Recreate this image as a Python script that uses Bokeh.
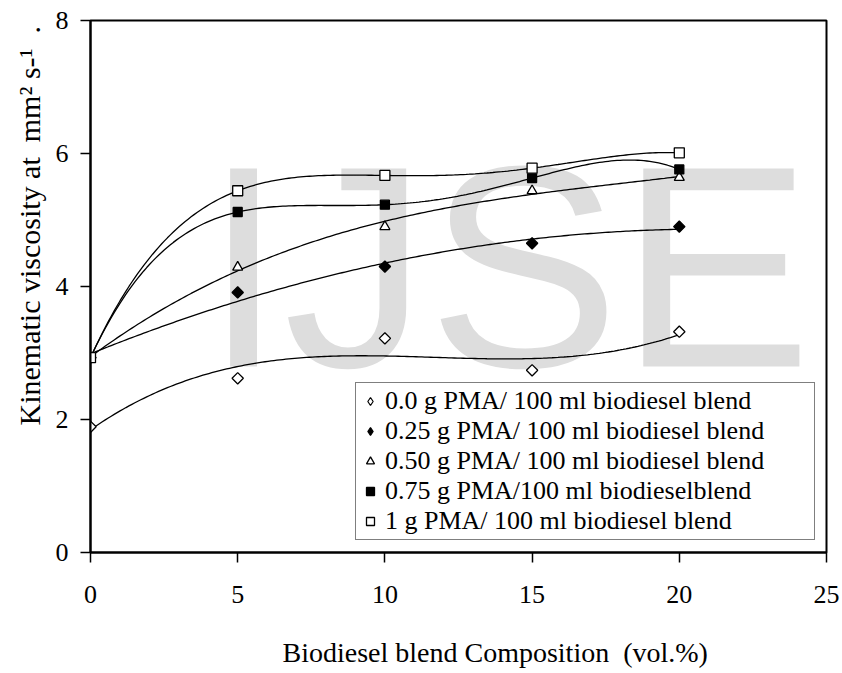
import numpy as np
from math import pi
from bokeh.plotting import figure
from bokeh.models import Label, Legend, LegendItem, Range1d, FixedTicker, Title
from bokeh.embed import file_html
from bokeh.resources import INLINE

# ---- data ----
blend_pct = [0, 5, 10, 15, 20]
pma_000 = [1.89, 2.62, 3.22, 2.74, 3.32]
pma_025 = [2.93, 3.91, 4.30, 4.65, 4.90]
pma_050 = [2.93, 4.29, 4.90, 5.44, 5.64]
pma_075 = [2.93, 5.12, 5.23, 5.63, 5.76]
pma_100 = [2.93, 5.44, 5.67, 5.78, 6.01]
series_labels = [
    "0.0 g PMA/ 100 ml biodiesel blend",
    "0.25 g PMA/ 100 ml biodiesel blend",
    "0.50 g PMA/ 100 ml biodiesel blend",
    "0.75 g PMA/100 ml biodieselblend",
    "1 g PMA/ 100 ml biodiesel blend",
]
trend_order = [3, 2, 3, 4, 4]   # polynomial trendline order for each series
x_ticks = [0, 5, 10, 15, 20, 25]
y_ticks = [0, 2, 4, 6, 8]
x_title = "Biodiesel blend Composition\u00a0 (vol.%)"
y_title = "Kinematic viscosity at\u00a0 mm² s-¹\u00a0 ."

series = [pma_000, pma_025, pma_050, pma_075, pma_100]
markers = ["square", "square", "triangle", "square", "square"]
angles = [pi / 4, pi / 4, 0, 0, 0]
legend_markers = ["diamond", "diamond", None, None, None]
fills = ["white", "black", "white", "black", "white"]
sizes = [8, 8, 10, 9, 10]

SERIF = "Liberation Serif"

p = figure(width=842, height=673, x_range=Range1d(0, 25), y_range=Range1d(0, 8),
           output_backend="svg", toolbar_location=None,
           min_border_left=90, min_border_right=16, min_border_top=20, min_border_bottom=121)
p.background_fill_color = "white"
p.border_fill_color = "white"
p.xgrid.visible = False
p.ygrid.visible = False
p.outline_line_color = "black"
p.outline_line_width = 2

for ax, ticks in ((p.xaxis, x_ticks), (p.yaxis, y_ticks)):
    ax.ticker = FixedTicker(ticks=ticks)
    ax.axis_line_width = 2
    ax.axis_line_color = "black"
    ax.major_tick_line_width = 1.5
    ax.major_tick_line_color = "black"
    ax.major_tick_out = 10
    ax.major_tick_in = 0
    ax.minor_tick_line_color = None
    ax.major_label_text_font = SERIF
    ax.major_label_text_font_size = "26px"
    ax.major_label_text_color = "black"
p.xaxis.major_label_standoff = 23
p.yaxis.major_label_standoff = 12

# watermark
p.add_layout(Label(x=3.84, y=4.30, text="IJSE", text_font="Liberation Sans",
                   text_font_size="288px", text_color="#dddddd",
                   text_baseline="alphabetic", level="underlay"))

# trendlines (polynomial fits of each series)
xs_fit = np.linspace(0, 20, 200)
for ys, order in zip(series, trend_order):
    coef = np.polyfit(blend_pct, ys, order)
    p.line(xs_fit, np.polyval(coef, xs_fit), line_color="black", line_width=1.3)

items = []
for ys, mk, ang, fc, sz, lmk, lab in zip(series, markers, angles, fills, sizes,
                                         legend_markers, series_labels):
    sw = None
    if lmk is not None:
        # legend swatch: a diamond drawn under the rotated-square markers (hidden by them)
        sw = p.scatter(blend_pct, ys, marker=lmk, size=10, fill_color=fc,
                       line_color="black", line_width=1.2)
    r = p.scatter(blend_pct, ys, marker=mk, angle=ang, size=sz, fill_color=fc,
                  line_color="black", line_width=1.3)
    items.append(LegendItem(label=lab, renderers=[sw if sw is not None else r]))

legend = Legend(items=items, location=(265, 12), orientation="vertical",
                label_text_font=SERIF, label_text_font_size="26px", label_text_color="black",
                glyph_width=22, glyph_height=20, label_standoff=4, spacing=0,
                padding=3, margin=0, label_width=426,
                border_line_color="black", border_line_width=1.5,
                background_fill_color="white", background_fill_alpha=1)
p.add_layout(legend, "center")

# axis titles placed as side titles so they can be offset like the reference
p.add_layout(Title(text=y_title, align="left", offset=127, standoff=14,
                   text_font=SERIF, text_font_size="30px", text_font_style="normal",
                   text_color="black"), "left")
p.add_layout(Title(text=" ", text_font_size="1px", standoff=24), "below")
p.add_layout(Title(text=x_title, align="left", offset=192, standoff=4,
                   text_font=SERIF, text_font_size="28px", text_font_style="normal",
                   text_color="black"), "below")

open("out.html", "w").write(file_html(p, INLINE))
